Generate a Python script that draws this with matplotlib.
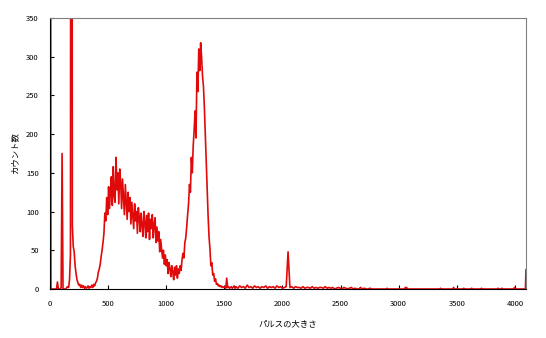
import numpy as np
import matplotlib
matplotlib.use("Agg")
import matplotlib.pyplot as plt

plt.rcParams['font.family'] = ['Noto Sans CJK JP', 'DejaVu Sans']

# main spectrum, one value every 8 channels from channel 0
main_start = 0
main_step = 8
main_counts = [
    2000, 0, 0, 0, 0, 0, 0, 0, 9, 0,            # 0
    0, 0, 2, 175, 0, 0, 0, 0, 2, 3,             # 80
    2, 12, 45, 2000, 82, 55, 48, 30, 20, 12,    # 160
    8, 5, 6, 2, 5, 2, 4, 1, 3, 1,               # 240
    2, 4, 1, 3, 2, 5, 2, 6, 4, 8,               # 320
    10, 14, 22, 26, 32, 42, 50, 60, 72, 98,     # 400
    88, 118, 96, 132, 104, 128, 145, 108, 158, 120,   # 480
    112, 170, 128, 150, 110, 155, 138, 104, 142, 118,  # 560
    96, 135, 112, 90, 125, 100, 118, 84, 112, 95,     # 640
    78, 110, 88, 100, 72, 105, 92, 74, 98, 82,        # 720
    68, 100, 86, 66, 95, 74, 98, 64, 90, 78,          # 800
    96, 66, 84, 92, 60, 80, 62, 74, 48, 64,           # 880
    52, 40, 50, 32, 44, 30, 38, 20, 34, 26,           # 960
    16, 30, 22, 12, 28, 18, 30, 14, 26, 20,           # 1040
    30, 24, 38, 46, 40, 60, 66, 80, 96, 110,          # 1120
    135, 125, 170, 150, 185, 205, 230, 195, 280, 255,  # 1200
    310, 282, 318, 300, 275, 262, 235, 200, 165, 128,  # 1280
    95, 68, 52, 30, 34, 18, 20, 10, 13, 6,            # 1360
    7, 4, 5, 3, 4, 2, 3, 2, 3, 1,                     # 1440
    14, 2, 3, 1, 2, 3, 1, 2, 4, 1,                    # 1520
]

# tail, one value every 16 channels from channel 1600
tail_start = 1600
tail_step = 16
tail_counts = [
    3, 1, 4, 2, 3, 1, 5, 2, 3, 1, 4, 2, 3,
    1, 3, 2, 4, 1, 3, 2, 3, 1, 4, 2, 3, 1, 2, 3,
    48,
    2, 3, 1, 3, 2, 2, 1, 3, 1, 2, 2, 1, 3, 1, 2, 1, 2, 2, 1, 3, 1, 2,
    1, 2, 0, 1, 2, 1, 0, 2, 1, 0, 1, 2, 0, 1, 0, 0, 2, 0, 1, 0, 0, 1, 0, 0,
]

# sparse counts at the far end
far_channels = [2800, 2896, 2900, 2904, 3052, 3056, 3064, 3068, 3072,
                3356, 3360, 3364, 3468, 3472, 3476, 3556, 3560, 3564,
                3624, 3628, 3632, 3708, 3712, 3716, 3852, 3856, 3860,
                3884, 3888, 3892, 3992, 3996, 4000, 4090, 4095]
far_counts = [0, 0, 1, 0, 0, 2, 1, 2, 0,
              0, 1, 0, 0, 2, 0, 0, 1, 0,
              0, 1, 0, 0, 1, 0, 0, 1, 0,
              0, 1, 0, 0, 2, 0, 0, 25]

x_ticks = [0, 500, 1000, 1500, 2000, 2500, 3000, 3500, 4000]
y_ticks = [0, 50, 100, 150, 200, 250, 300, 350]

main_ch = main_start + main_step * np.arange(len(main_counts))
tail_ch = tail_start + tail_step * np.arange(len(tail_counts))
channels = np.concatenate([main_ch, tail_ch, far_channels])
counts = np.concatenate([main_counts, tail_counts, far_counts])

fig = plt.figure(figsize=(5.46, 3.38), dpi=100)
ax = fig.add_axes([50 / 546, 1 - 289 / 338, 476 / 546, 271 / 338])
ax.plot(channels, counts, color='#e00a0a', lw=1.2)

ax.set_xlim(0, 4095)
ax.set_ylim(0, 350)
ax.set_xticks(x_ticks)
ax.set_yticks(y_ticks)
ax.tick_params(direction='in', length=3, width=0.8, labelsize=5.5, pad=8)
for side in ('top', 'right'):
    ax.spines[side].set_color('#808080')
for side in ('left', 'bottom'):
    ax.spines[side].set_color('black')

ax.set_xlabel('パルスの大きさ', fontsize=6, labelpad=8)
ax.set_ylabel('カウント数', fontsize=6, labelpad=5)

fig.savefig('out.png', dpi=100)
